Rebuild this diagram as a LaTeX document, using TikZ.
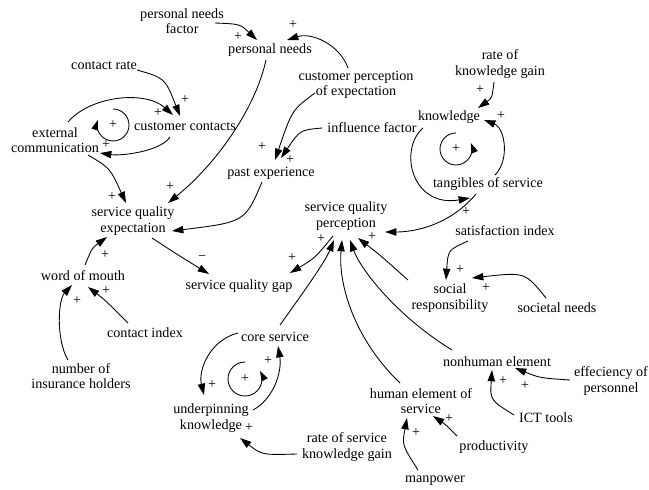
\documentclass[tikz,border=0pt]{standalone}
\usepackage{fontspec}
\setmainfont{Liberation Serif}
\usetikzlibrary{arrows.meta}
\begin{document}
\begin{tikzpicture}[x=0.75pt,y=-0.75pt,
  lbl/.style={align=center,inner sep=1pt,font=\fontsize{10.6}{11.6}\selectfont},
  pl/.style={inner sep=0pt,font=\fontsize{10.5}{10.5}\selectfont},
  arr/.style={line width=0.65pt,-{Triangle[length=8.5pt,width=5.5pt]}},
  lp/.style={line width=0.65pt,-{Triangle[length=7.5pt,width=5pt]}}]
\useasboundingbox (0,0) rectangle (649,489);
% nodes
\node[lbl] (pnf) at (182,21) {personal needs\\factor};
\node[lbl] (pn) at (270,50) {personal needs};
\node[lbl] (cpe) at (356,85) {customer perception\\of expectation};
\node[lbl] (cr) at (104,66) {contact rate};
\node[lbl] (cc) at (185,127) {customer contacts};
\node[lbl] (ec) at (55,140) {external\\communication};
\node[lbl] (inf) at (372,128) {influence factor};
\node[lbl] (pe) at (271,173) {past experience};
\node[lbl] (kn) at (449,117) {knowledge};
\node[lbl] (rkg) at (500,64) {rate of\\knowledge gain};
\node[lbl] (ts) at (488,184) {tangibles of service};
\node[lbl] (sqe) at (133,221) {service quality\\expectation};
\node[lbl] (sqp) at (346,216) {service quality\\perception};
\node[lbl] (si) at (505,231) {satisfaction index};
\node[lbl] (wom) at (83,276) {word of mouth};
\node[lbl] (sqg) at (239,286) {service quality gap};
\node[lbl] (sr) at (450,298) {social\\responsibility};
\node[lbl] (sn) at (557,308) {societal needs};
\node[lbl] (ci) at (145,333) {contact index};
\node[lbl] (cs) at (275,337) {core service};
\node[lbl] (nih) at (81,376) {number of\\insurance holders};
\node[lbl] (uk) at (211,418) {underpinning\\knowledge};
\node[lbl] (nhe) at (497,362) {nonhuman element};
\node[lbl] (ep) at (611,381) {effeciency of\\personnel};
\node[lbl] (he) at (421,401) {human element of\\service};
\node[lbl] (ict) at (546,418) {ICT tools};
\node[lbl] (prod) at (494,447) {productivity};
\node[lbl] (rskg) at (347,447) {rate of service\\knowledge gain};
\node[lbl] (mp) at (435,481) {manpower};
% loop centres
\node[pl] (l1) at (113,125) {+};
\node[pl] (l2) at (456,149) {+};
\node[pl] (l3) at (245,379) {+};
% polarity signs
\node[pl] (s1) at (238,37) {+};
\node[pl] (s2) at (293,25) {+};
\node[pl] (s3) at (170,187) {+};
\node[pl] (s4) at (185,100) {+};
\node[pl] (s5) at (158,113) {+};
\node[pl] (s6) at (106,145) {+};
\node[pl] (s7) at (112,197) {+};
\node[pl] (s8) at (262,147) {+};
\node[pl] (s9) at (290,160) {+};
\node[pl] (s10) at (105,255) {+};
\node[pl] (s11) at (202,258) {−};
\node[pl] (s12) at (292,258) {+};
\node[pl] (s13) at (77,301) {+};
\node[pl] (s14) at (106,291) {+};
\node[pl] (s15) at (466,212) {+};
\node[pl] (s16) at (501,116) {+};
\node[pl] (s17) at (480,90) {+};
\node[pl] (s18) at (460,270) {+};
\node[pl] (s19) at (486,288) {+};
\node[pl] (s20) at (321,239) {+};
\node[pl] (s21) at (372,237) {+};
\node[pl] (s22) at (212,385) {+};
\node[pl] (s23) at (268,361) {+};
\node[pl] (s24) at (249,428) {+};
\node[pl] (s25) at (525,386) {+};
\node[pl] (s26) at (503,381) {+};
\node[pl] (s27) at (449,419) {+};
\node[pl] (s28) at (416,433) {+};
% connectors
\draw[arr] ([shift={(33,2)}]pnf.center) .. controls (240,24) .. ([shift={(-13,-10)}]pn.center);
\draw[arr] ([shift={(-8,-17)}]cpe.center) .. controls (340,45) and (312,32) .. ([shift={(17,-10)}]pn.center);
\draw[arr] ([shift={(-4,10)}]pn.center) .. controls (255,110) and (215,165) .. ([shift={(35,-18)}]sqe.center);
\draw[arr] ([shift={(33,4)}]cr.center) .. controls (165,78) .. ([shift={(-5,-11)}]cc.center);
\draw[arr] ([shift={(13,-18)}]ec.center) .. controls (90,96) and (145,90) .. ([shift={(-12,-12)}]cc.center);
\draw[arr] ([shift={(-15,10)}]cc.center) .. controls (160,152) and (120,156) .. ([shift={(45,13)}]ec.center);
\draw[lp] (l1.center) ++(-90:16) arc[start angle=-90,end angle=198,radius=16];
\draw[arr] ([shift={(33,15)}]ec.center) .. controls (110,168) .. ([shift={(-7,-18)}]sqe.center);
\draw[arr] ([shift={(-41,8)}]cpe.center) .. controls (292,110) .. ([shift={(4,-13)}]pe.center);
\draw[arr] ([shift={(-50,0)}]inf.center) .. controls (300,130) .. ([shift={(10,-15)}]pe.center);
\draw[arr] ([shift={(-9,9)}]pe.center) .. controls (245,222) .. ([shift={(39,10)}]sqe.center);
\draw[arr] ([shift={(2,-11)}]wom.center) .. controls (92,248) .. ([shift={(-26,16)}]sqe.center);
\draw[arr] ([shift={(19,17)}]sqe.center) .. controls (178,255) .. ([shift={(-30,-12)}]sqg.center);
\draw[arr] ([shift={(-13,20)}]sqp.center) .. controls (315,258) .. ([shift={(51,-13)}]sqg.center);
\draw[arr] ([shift={(-13,-16)}]nih.center) .. controls (56,340) and (58,300) .. ([shift={(-11,9)}]wom.center);
\draw[arr] ([shift={(-17,-10)}]ci.center) .. controls (105,300) .. ([shift={(5,11)}]wom.center);
\draw[arr] ([shift={(-26,11)}]kn.center) .. controls (398,150) and (412,208) .. ([shift={(-18,14)}]ts.center);
\draw[arr] ([shift={(-12,10)}]ts.center) .. controls (450,225) and (415,232) .. ([shift={(39,16)}]sqp.center);
\draw[arr] ([shift={(7,-9)}]ts.center) .. controls (510,160) and (505,128) .. ([shift={(35,3)}]kn.center);
\draw[arr] ([shift={(-6,18)}]rkg.center) .. controls (492,98) .. ([shift={(29,-9)}]kn.center);
\draw[lp] (l2.center) ++(-90:16) arc[start angle=270,end angle=-22,radius=16];
\draw[arr] ([shift={(-37,10)}]si.center) .. controls (448,250) .. ([shift={(-4,-18)}]sr.center);
\draw[arr] ([shift={(-11,-10)}]sn.center) .. controls (525,272) .. ([shift={(22,-20)}]sr.center);
\draw[arr] ([shift={(5,-12)}]cs.center) .. controls (305,290) and (325,262) .. ([shift={(-12,24)}]sqp.center);
\draw[arr] ([shift={(-21,-18)}]he.center) .. controls (355,340) and (338,285) .. ([shift={(-4,24)}]sqp.center);
\draw[arr] ([shift={(-45,-12)}]nhe.center) .. controls (395,315) and (360,268) .. ([shift={(4,24)}]sqp.center);
\draw[arr] ([shift={(-42,-18)}]sr.center) .. controls (380,255) .. ([shift={(12,22)}]sqp.center);
\draw[arr] ([shift={(-37,-4)}]cs.center) .. controls (210,340) and (198,370) .. ([shift={(-7,-23)}]uk.center);
\draw[arr] ([shift={(42,-8)}]uk.center) .. controls (275,398) and (282,370) .. ([shift={(3,9)}]cs.center);
\draw[lp] (l3.center) ++(-90:17) arc[start angle=270,end angle=-28,radius=17];
\draw[arr] ([shift={(-50,7)}]rskg.center) .. controls (262,455) .. ([shift={(29,20)}]uk.center);
\draw[arr] ([shift={(-41,-1)}]ep.center) .. controls (540,378) .. ([shift={(18,6)}]nhe.center);
\draw[arr] ([shift={(-32,-3)}]ict.center) .. controls (490,400) .. ([shift={(-5,8)}]nhe.center);
\draw[arr] ([shift={(-37,-11)}]prod.center) .. controls (445,424) .. ([shift={(12,15)}]he.center);
\draw[arr] ([shift={(-17,-11)}]mp.center) .. controls (402,445) .. ([shift={(-14,17)}]he.center);
\end{tikzpicture}
\end{document}
